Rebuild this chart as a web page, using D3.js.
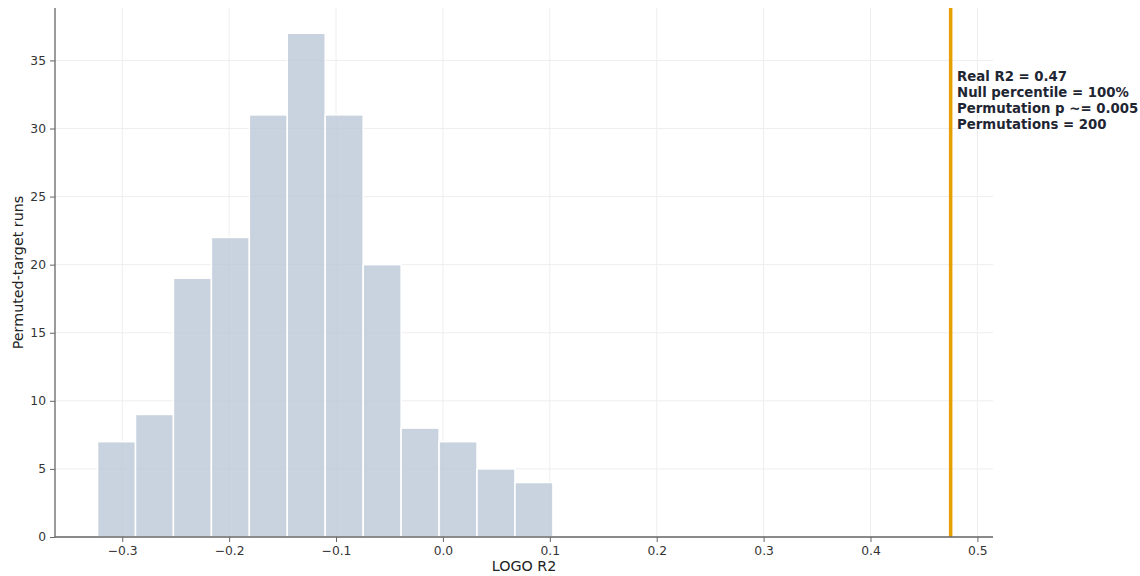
<!DOCTYPE html>
<html><head><meta charset="utf-8">
<script src="https://cdn.jsdelivr.net/npm/d3@7"></script>
<style>body{margin:0;background:#fff;} svg{display:block;font-family:"DejaVu Sans",sans-serif;}</style>
</head><body>
<svg id="chart" width="1140" height="576"></svg>
<script>
const binEdges = [-0.3231,-0.2876,-0.2521,-0.2166,-0.1811,-0.1456,-0.1101,-0.0746,-0.0391,-0.0036,0.0319,0.0674,0.1029];
const counts = [7,9,19,22,31,37,31,20,8,7,5,4];
const realR2 = 0.475;
const xTicks = [-0.3,-0.2,-0.1,0.0,0.1,0.2,0.3,0.4,0.5];
const yTicks = [0,5,10,15,20,25,30,35];
const annotation = ["Real R2 = 0.47","Null percentile = 100%","Permutation p ~= 0.005","Permutations = 200"];

const svg = d3.select("#chart");
const L = 55, R = 993, T = 8, B = 537;
const x = d3.scaleLinear().domain([-0.3629, 0.5146]).range([L, R]);
const y = d3.scaleLinear().domain([0, 38.85]).range([B, T]);

// grid
const g = svg.append("g");
g.selectAll(".vg").data(xTicks).join("line")
  .attr("x1", d => x(d)).attr("x2", d => x(d)).attr("y1", T).attr("y2", B)
  .attr("stroke", "#eeeeee").attr("stroke-width", 1);
g.selectAll(".hg").data(yTicks).join("line")
  .attr("x1", L).attr("x2", R).attr("y1", d => y(d)).attr("y2", d => y(d))
  .attr("stroke", "#eeeeee").attr("stroke-width", 1);

// bars
svg.append("g").selectAll("rect").data(counts).join("rect")
  .attr("x", (d, i) => x(binEdges[i]))
  .attr("width", (d, i) => x(binEdges[i+1]) - x(binEdges[i]))
  .attr("y", d => y(d))
  .attr("height", d => y(0) - y(d))
  .attr("fill", "#bbc8d7").attr("fill-opacity", 0.8)
  .attr("stroke", "#ffffff").attr("stroke-width", 1.5);

// real line
svg.append("line")
  .attr("x1", x(realR2)).attr("x2", x(realR2)).attr("y1", T).attr("y2", B)
  .attr("stroke", "#e69f00").attr("stroke-width", 3.5);

// axes
const xAxis = svg.append("g").attr("transform", `translate(0,${B})`)
  .call(d3.axisBottom(x).tickValues(xTicks).tickSize(5).tickPadding(4)
    .tickFormat(d => d3.format(".1f")(d).replace("-", "\u2212")));
const yAxis = svg.append("g").attr("transform", `translate(${L},0)`)
  .call(d3.axisLeft(y).tickValues(yTicks).tickSize(5).tickPadding(4));
[xAxis, yAxis].forEach(a => {
  a.select(".domain").attr("stroke", "#666").attr("stroke-width", 1.3);
  a.selectAll(".tick line").attr("stroke", "#666");
  a.selectAll(".tick text").attr("fill", "#333").attr("font-size", 12.3)
    .attr("font-family", "DejaVu Sans, sans-serif");
});
xAxis.select(".domain").attr("d", `M${L},0H${R}`);
yAxis.select(".domain").attr("d", `M0,${B}V${T}`);

// axis labels
svg.append("text").attr("x", (L + R) / 2).attr("y", 571).attr("text-anchor", "middle")
  .attr("font-size", 14.3).attr("fill", "#222").text("LOGO R2");
svg.append("text").attr("transform", `translate(23,${(T + B) / 2}) rotate(-90)`)
  .attr("text-anchor", "middle").attr("font-size", 14.3).attr("fill", "#222")
  .text("Permuted-target runs");

// annotation
const ann = svg.append("text").attr("x", 957).attr("y", 81)
  .attr("font-size", 13.3).attr("font-weight", "bold").attr("fill", "#1f2633");
annotation.forEach((t, i) => ann.append("tspan").attr("x", 957).attr("dy", i === 0 ? 0 : 16).text(t));
</script>
</body></html>
